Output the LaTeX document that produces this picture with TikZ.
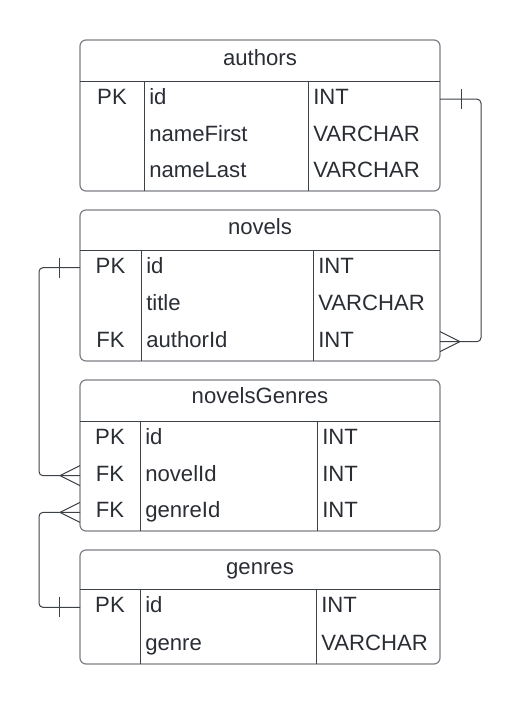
\documentclass[tikz,border=0pt]{standalone}
\usepackage{fontspec}
\setmainfont{Liberation Sans}
\definecolor{ink}{HTML}{2A2E34}
\definecolor{rim}{HTML}{7C8086}
\definecolor{rule}{HTML}{3D4249}

\begin{document}
\begin{tikzpicture}[x=0.75pt,y=-0.75pt]
        \tikzstyle{table} = [draw=rim, line width=0.9pt, rounded corners=4.5pt, anchor=north west, inner sep=0pt, outer sep=0pt, minimum width=270pt]
        \tikzstyle{title} = [anchor=base, inner sep=0pt, text=ink, font=\fontsize{16.6pt}{19pt}\selectfont]
        \tikzstyle{key} = [anchor=base, inner sep=0pt, text=ink, text height=11pt, text depth=3pt, font=\fontsize{16.6pt}{19pt}\selectfont]
        \tikzstyle{field} = [anchor=base west, inner sep=0pt, text=ink, font=\fontsize{16.6pt}{19pt}\selectfont]
        \tikzstyle{sep} = [draw=rule, line width=0.75pt]
        \tikzstyle{link} = [draw=rule, line width=0.75pt, rounded corners=3pt]

        \useasboundingbox (0,0) rectangle (521,704);

        % authors
        \node[table, minimum height=113.25pt] (authors) at (80,40){};
        \draw[sep] (80,81) -- (440,81) (144,81) -- (144,191) (308,81) -- (308,191);
        \node[title] (authorsTitle) at (260,65){authors};
        \node[key] (authorsPK) at (112,104.5){PK};
        \node[field] (authorsId) at (149,104.5){id};
        \node[field] (authorsIdType) at (313,104.5){INT};
        \node[field] (authorsFirst) at (149,141){nameFirst};
        \node[field] (authorsFirstType) at (313,141){VARCHAR};
        \node[field] (authorsLast) at (149,177.7){nameLast};
        \node[field] (authorsLastType) at (313,177.7){VARCHAR};

        % novels
        \node[table, minimum height=113.25pt] (novels) at (80,210){};
        \draw[sep] (80,250) -- (440,250) (141,250) -- (141,361) (313,250) -- (313,361);
        \node[title] (novelsTitle) at (260,234.5){novels};
        \node[key] (novelsPK) at (110.5,273){PK};
        \node[field] (novelsId) at (146,273){id};
        \node[field] (novelsIdType) at (318,273){INT};
        \node[field] (novelsTitleField) at (146,310){title};
        \node[field] (novelsTitleType) at (318,310){VARCHAR};
        \node[key] (novelsFK) at (110.5,347){FK};
        \node[field] (novelsAuthor) at (146,347){authorId};
        \node[field] (novelsAuthorType) at (318,347){INT};

        % novelsGenres
        \node[table, minimum height=113.25pt] (novelsGenres) at (80,380){};
        \draw[sep] (80,421) -- (440,421) (140,421) -- (140,531) (317,421) -- (317,531);
        \node[title] (novelsGenresTitle) at (260,403.5){novelsGenres};
        \node[key] (novelsGenresPK) at (110,444.5){PK};
        \node[field] (novelsGenresId) at (145,444.5){id};
        \node[field] (novelsGenresIdType) at (322,444.5){INT};
        \node[key] (novelsGenresFKnovel) at (110,481){FK};
        \node[field] (novelsGenresNovel) at (145,481){novelId};
        \node[field] (novelsGenresNovelType) at (322,481){INT};
        \node[key] (novelsGenresFKgenre) at (110,517.7){FK};
        \node[field] (novelsGenresGenre) at (145,517.7){genreId};
        \node[field] (novelsGenresGenreType) at (322,517.7){INT};

        % genres
        \node[table, minimum height=85.5pt] (genres) at (80,550){};
        \draw[sep] (80,589) -- (440,589) (140,589) -- (140,664) (316,589) -- (316,664);
        \node[title] (genresTitle) at (260,574){genres};
        \node[key] (genresPK) at (110,612.7){PK};
        \node[field] (genresId) at (145,612.7){id};
        \node[field] (genresIdType) at (321,612.7){INT};
        \node[field] (genresName) at (145,650){genre};
        \node[field] (genresNameType) at (321,650){VARCHAR};

        % relations
        \draw[link] (authors.east |- authorsPK) -- ++(41,0) |- (novels.east |- novelsFK);
        \draw[link, rounded corners=0pt] (authors.east |- authorsPK) ++(21,-10) -- ++(0,20);
        \draw[link, rounded corners=0pt] (novels.east |- novelsFK) ++(20,0) -- ++(-20,-10) ++(20,10) -- ++(-20,10);

        \draw[link] (novels.west |- novelsPK) -- ++(-41,0) |- (novelsGenres.west |- novelsGenresFKnovel);
        \draw[link, rounded corners=0pt] (novels.west |- novelsPK) ++(-21,-10) -- ++(0,20);
        \draw[link, rounded corners=0pt] (novelsGenres.west |- novelsGenresFKnovel) ++(-20,0) -- ++(20,-10) ++(-20,10) -- ++(20,10);

        \draw[link] (novelsGenres.west |- novelsGenresFKgenre) -- ++(-41,0) |- (genres.west |- genresPK);
        \draw[link, rounded corners=0pt] (genres.west |- genresPK) ++(-21,-10) -- ++(0,20);
        \draw[link, rounded corners=0pt] (novelsGenres.west |- novelsGenresFKgenre) ++(-20,0) -- ++(20,-10) ++(-20,10) -- ++(20,10);

    \end{tikzpicture}
\end{document}
